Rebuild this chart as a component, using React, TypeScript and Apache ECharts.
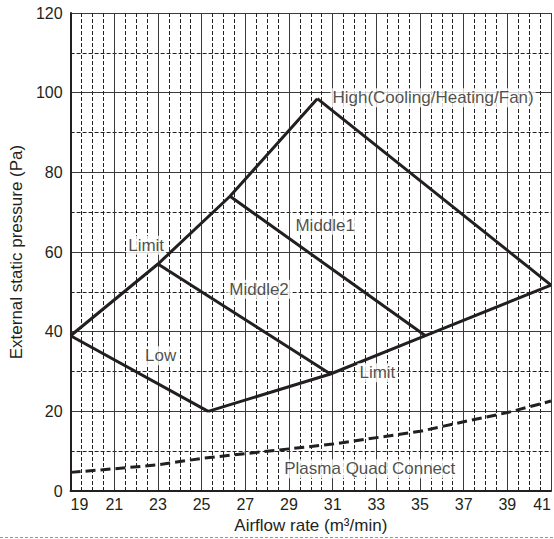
import React, { useEffect, useRef } from "react";
import * as echarts from "echarts";

// ---- data ----
const xTickLabels = ["19", "21", "23", "25", "27", "29", "31", "33", "35", "37", "39", "41"];
const yTicks = [0, 20, 40, 60, 80, 100, 120];

const limitLeftX = [19, 23, 26.3, 30.3];
const limitLeftY = [39, 57, 74, 98.5];

const highX = [30.3, 41];
const highY = [98.5, 51.7];

const limitRightX = [25.3, 30.9, 35.25, 41];
const limitRightY = [20, 29.4, 39, 51.7];

const middle1X = [26.3, 35.25];
const middle1Y = [74, 39];

const middle2X = [23, 30.9];
const middle2Y = [57, 29.4];

const lowX = [19, 25.3];
const lowY = [39, 20];

const plasmaX = [19, 21, 23, 25, 29, 31, 35, 37, 39, 41];
const plasmaY = [4.7, 5.6, 6.6, 8.2, 10.6, 11.8, 15.0, 17.4, 19.7, 22.6];

const labelTexts = [
  "High(Cooling/Heating/Fan)",
  "Middle1",
  "Middle2",
  "Limit",
  "Low",
  "Limit",
  "Plasma Quad Connect",
];
const labelX = [35.6, 30.66, 27.63, 22.46, 23.12, 33.05, 32.7];
const labelY = [98.7, 66.7, 50.65, 61.7, 34.0, 29.7, 5.6];

const X0 = 19;
const INK = "#231f20";
const FONT = "'Liberation Sans', Arial, Helvetica, sans-serif";

const toPairs = (xs: number[], ys: number[]) => xs.map((x, i) => [x - X0, ys[i]]);

export default function App() {
  const ref = useRef<HTMLDivElement>(null);

  useEffect(() => {
    document.body.style.margin = "0";
    if (!ref.current) return;
    const chart = echarts.init(ref.current, undefined, { renderer: "svg" });

    const lineStyle = { color: INK, width: 3, join: "miter" as const, cap: "butt" as const };
    const mkLine = (name: string, xs: number[], ys: number[], extra: any = {}) => ({
      name,
      type: "line",
      data: toPairs(xs, ys),
      symbol: "none",
      lineStyle: { ...lineStyle, ...extra },
      z: 3,
      silent: true,
    });

    const option: any = {
      animation: false,
      textStyle: { fontFamily: FONT, color: INK },
      grid: { left: 70, right: 1, top: 13, bottom: 45, containLabel: false },
      xAxis: {
        type: "value",
        min: 0,
        max: 22,
        interval: 2,
        name: "Airflow rate (m³/min)",
        nameLocation: "middle",
        nameGap: 23,
        nameTextStyle: { fontSize: 17, color: INK, fontFamily: FONT },
        axisLine: { show: true, lineStyle: { color: INK, width: 2 } },
        axisTick: { show: false },
        axisLabel: {
          fontSize: 16,
          color: INK,
          fontFamily: FONT,
          margin: 5,
          alignMinLabel: "left",
          alignMaxLabel: "right",
          formatter: (v: number) => xTickLabels[Math.round(v / 2)] ?? "",
        },
        splitLine: { show: true, lineStyle: { color: "#3a3a3a", width: 1 } },
        minorTick: { show: false, splitNumber: 4 },
        minorSplitLine: { show: true, lineStyle: { color: "#222", width: 1, type: [4, 2] } },
      },
      yAxis: {
        type: "value",
        min: yTicks[0],
        max: yTicks[yTicks.length - 1],
        interval: 20,
        name: "External static pressure (Pa)",
        nameLocation: "middle",
        nameGap: 43,
        nameTextStyle: { fontSize: 17, color: INK, fontFamily: FONT },
        axisLine: { show: true, lineStyle: { color: INK, width: 2 } },
        axisTick: { show: false },
        axisLabel: { fontSize: 16, color: INK, fontFamily: FONT, margin: 8 },
        splitLine: { show: true, lineStyle: { color: "#3a3a3a", width: 1 } },
        minorTick: { show: false, splitNumber: 2 },
        minorSplitLine: { show: true, lineStyle: { color: "#222", width: 1, type: [4, 2] } },
      },
      graphic: [
        {
          type: "line",
          shape: { x1: 0, y1: 537.5, x2: 554, y2: 537.5 },
          style: { stroke: "#999", lineWidth: 1, lineDash: [3, 2] },
          silent: true,
        },
      ],
      series: [
        mkLine("LimitLeft", limitLeftX, limitLeftY),
        mkLine("High", highX, highY),
        mkLine("LimitRight", limitRightX, limitRightY),
        mkLine("Middle1", middle1X, middle1Y),
        mkLine("Middle2", middle2X, middle2Y),
        mkLine("Low", lowX, lowY),
        mkLine("Plasma", plasmaX, plasmaY, { type: [10, 5] }),
        {
          name: "labels",
          type: "scatter",
          symbolSize: 0,
          silent: true,
          z: 5,
          data: labelTexts.map((t, i) => ({ value: [labelX[i] - X0, labelY[i]], name: t })),
          label: {
            show: true,
            position: "inside",
            formatter: (p: any) => p.name,
            fontSize: 17,
            fontFamily: FONT,
            color: INK,
            backgroundColor: "#fff",
            padding: [1, 2],
          },
        },
      ],
    };

    chart.setOption(option);
    return () => chart.dispose();
  }, []);

  return <div ref={ref} style={{ width: 554, height: 539 }} />;
}
